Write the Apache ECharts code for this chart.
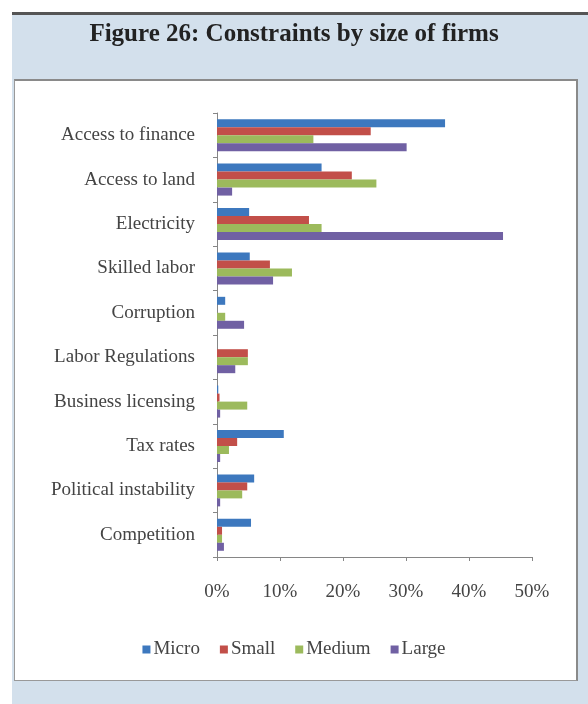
<!DOCTYPE html>
<html>
<head>
<meta charset="utf-8">
<style>
  html, body { margin: 0; padding: 0; background: #fff; }
  .frame {
    position: absolute; left: 12px; top: 12px; width: 576px; height: 692px;
    background: #d3e0ec; border-top: 3px solid #555;
  }
  .panel {
    position: absolute; left: 14px; top: 79px; width: 561px; height: 599px;
    background: #fff; border: 1px solid #999; border-top: 2px solid #8a8a8a;
    border-right: 2px solid #8a8a8a;
  }
  #chart { position: absolute; left: 0; top: 0; width: 588px; height: 704px; }
</style>
<script src="https://cdn.jsdelivr.net/npm/echarts@6/dist/echarts.min.js"></script>
</head>
<body>
<div class="frame"></div>
<div class="panel"></div>
<div id="chart"></div>
<script>
var categories = ["Access to finance", "Access to land", "Electricity", "Skilled labor",
  "Corruption", "Labor Regulations", "Business licensing", "Tax rates",
  "Political instability", "Competition"];
var seriesNames = ["Micro", "Small", "Medium", "Large"];
var micro = [36.2, 16.6, 5.1, 5.2, 1.3, 0, 0.2, 10.6, 5.9, 5.4];
var small = [24.4, 21.4, 14.6, 8.4, 0, 4.9, 0.4, 3.2, 4.8, 0.8];
var medium = [15.3, 25.3, 16.6, 11.9, 1.3, 4.9, 4.8, 1.9, 4.0, 0.8];
var large = [30.1, 2.4, 45.4, 8.9, 4.3, 2.9, 0.5, 0.5, 0.5, 1.1];
var xTicks = [0, 10, 20, 30, 40, 50];

var colors = ["#3d78be", "#c24f49", "#9cba5c", "#7060a3"];
var serif = "Liberation Serif";

var chart = echarts.init(document.getElementById("chart"));
var values = [micro, small, medium, large];
var series = seriesNames.map(function (name, i) {
  return {
    name: name,
    type: "bar",
    barGap: 0,
    barCategoryGap: "28%",
    itemStyle: { color: colors[i] },
    data: values[i]
  };
});

var option = {
  backgroundColor: "transparent",
  color: colors,
  title: {
    text: "Figure 26: Constraints by size of firms",
    left: "center",
    top: 22,
    padding: [0, 0, 0, 16],
    textStyle: { fontFamily: serif, fontSize: 25, fontWeight: "bold", color: "#222" }
  },
  legend: {
    data: seriesNames,
    left: "center",
    top: 640,
    padding: [0, 0, 0, 12],
    icon: "rect",
    itemWidth: 8,
    itemHeight: 8,
    itemGap: 20,
    textStyle: { fontFamily: serif, fontSize: 19, color: "#444", padding: [0, 0, 0, -2] }
  },
  grid: { left: 217, right: 56, top: 113, bottom: 147 },
  xAxis: {
    type: "value",
    min: xTicks[0],
    max: xTicks[xTicks.length - 1],
    interval: 10,
    splitLine: { show: false },
    axisLine: { show: true, lineStyle: { color: "#868686" } },
    axisTick: { show: true, length: 4, lineStyle: { color: "#868686" } },
    axisLabel: { formatter: "{value}%", margin: 26, fontFamily: serif, fontSize: 19, color: "#444" }
  },
  yAxis: {
    type: "category",
    inverse: true,
    data: categories,
    axisLine: { show: true, lineStyle: { color: "#868686" } },
    axisTick: { show: true, length: 4, lineStyle: { color: "#868686" } },
    axisLabel: { margin: 22, fontFamily: serif, fontSize: 19, color: "#444" }
  },
  series: series
};
chart.setOption(option);
</script>
</body>
</html>
